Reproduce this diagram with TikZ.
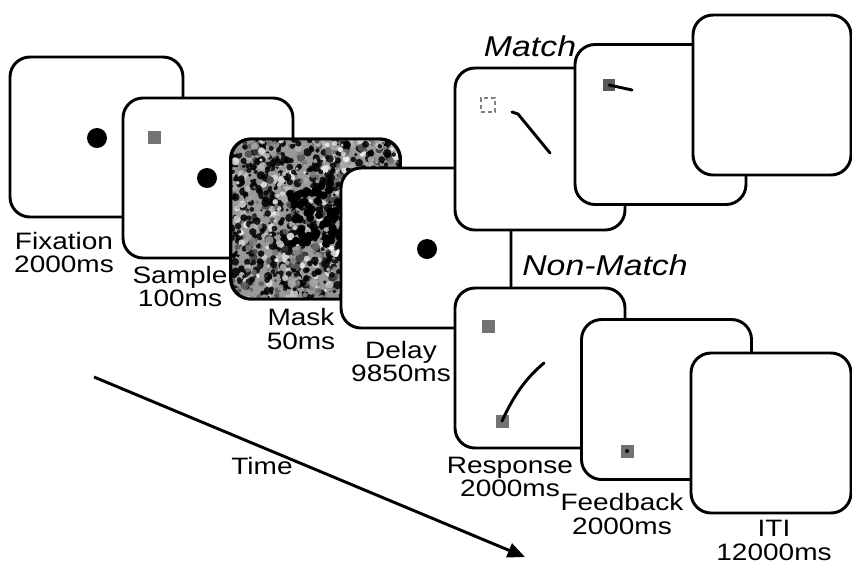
\documentclass[tikz,border=0pt]{standalone}
\usepackage{fontspec}
\setmainfont{Liberation Sans}[FakeStretch=1.18]
\usetikzlibrary{arrows.meta}
\tikzset{
  screen/.style={draw=black, fill=white, line width=2.2pt, rounded corners=15pt,
    inner sep=0pt, outer sep=0pt, minimum width=127.5pt, minimum height=120pt},
  lbl/.style={font=\fontsize{17.8pt}{17.6pt}\selectfont, align=center, inner sep=0pt},
  cond/.style={font=\fontsize{21.5pt}{22pt}\selectfont\itshape, inner sep=0pt},
  dot/.style={circle, fill=black, inner sep=0pt, minimum size=15pt},
  gsq/.style={fill=black!55, inner sep=0pt, minimum size=9.75pt},
  stroke/.style={line width=2.2pt, line cap=round, line join=round}
}
\begin{document}
\begin{tikzpicture}[x=0.75pt,y=-0.75pt]
\useasboundingbox[fill=white] (0,0) rectangle (852,565);
% Fixation
\node[screen, minimum width=129.75pt] (fix) at (96.5,137) {};
\node[dot] (fixdot) at (97,138) {};
% Sample
\node[screen] (sam) at (208,178) {};
\node[gsq] (samsq) at (154,137) {};
\node[dot] (samdot) at (207,178) {};
% Mask
\node[screen] (mask) at (315.5,219) {};
\begin{scope}
  \clip[rounded corners=15pt] (231,139) rectangle (400,299);
  \fill[black!40] (231,139) rectangle (400,299);
  \pgfmathsetseed{17}
  \foreach \i in {1,...,1500}{
    \pgfmathsetmacro{\xx}{231+169*rnd}
    \pgfmathsetmacro{\yy}{139+160*rnd}
    \pgfmathsetmacro{\rr}{0.9+2.4*rnd}
    \pgfmathsetmacro{\gg}{ifthenelse(rnd<0.45,100,int(80*rnd))}
    \fill[black!\gg, opacity=0.85] (\xx,\yy) circle[radius=\rr pt];
  }
  \foreach \i in {1,...,60}{
    \pgfmathsetmacro{\xx}{290+50*rnd}
    \pgfmathsetmacro{\yy}{185+60*rnd}
    \fill[black] (\xx,\yy) circle[radius=3pt];
  }
\end{scope}
\draw[line width=2.2pt, rounded corners=15pt] (231,139) rectangle (400,299);
% Delay
\node[screen] (del) at (426,248) {};
\node[dot] (deldot) at (427,249) {};
% Match response
\node[screen, minimum height=121.5pt] (mresp) at (540,149) {};
\node[draw=black!50, dashed, line width=1.4pt, inner sep=0pt, minimum size=11pt,
  dash pattern=on 3pt off 2.5pt] (mdash) at (488,105) {};
\draw[stroke] (512,112) -- (518,114) -- (550,153);
% Non-match response
\node[screen] (nresp) at (540,368) {};
\node[gsq] (nsq1) at (488,326) {};
\node[gsq] (nsq2) at (502,421) {};
\draw[stroke] (nsq2.center) .. controls (514,395) and (526,378) .. (544,363);
% Match feedback
\node[screen, minimum width=128.25pt] (mfb) at (660.5,124.5) {};
\node[gsq, minimum size=9pt, fill=black!65] (mfsq) at (609,85) {};
\draw[stroke] (mfsq.center) -- (632,90);
% Non-match feedback
\node[screen] (nfb) at (666.5,399.5) {};
\node[gsq] (nfsq) at (627,451) {};
\fill (nfsq.center) circle[radius=1.5pt];
% ITI
\node[screen, minimum width=118.5pt] (miti) at (772,95) {};
\node[screen, minimum width=120pt] (niti) at (771,433) {};
% Labels
\node[cond, anchor=base] (lmatch) at (530,56) {Match};
\node[cond, anchor=base] (lnon) at (605,275) {Non-Match};
\node[lbl, anchor=base] (lfix) at (64,272.5) {Fixation\\2000ms};
\node[lbl, anchor=base] (lsam) at (180,306.5) {Sample\\100ms};
\node[lbl, anchor=base] (lmask) at (301,349) {Mask\\50ms};
\node[lbl, anchor=base] (ldel) at (401,381.5) {Delay\\9850ms};
\node[lbl, anchor=base] (lresp) at (510,496.5) {Response\\2000ms};
\node[lbl, anchor=base] (lfb) at (622,534) {Feedback\\2000ms};
\node[lbl, anchor=base] (liti) at (774,560) {ITI\\12000ms};
\node[lbl, anchor=base] (ltime) at (262,474) {Time};
% Time arrow
\coordinate (tstart) at (94,377);
\coordinate (tend) at (525,557);
\draw[line width=2.2pt, -{Triangle[length=13pt,width=11pt]}] (tstart) -- (tend);
\end{tikzpicture}
\end{document}
